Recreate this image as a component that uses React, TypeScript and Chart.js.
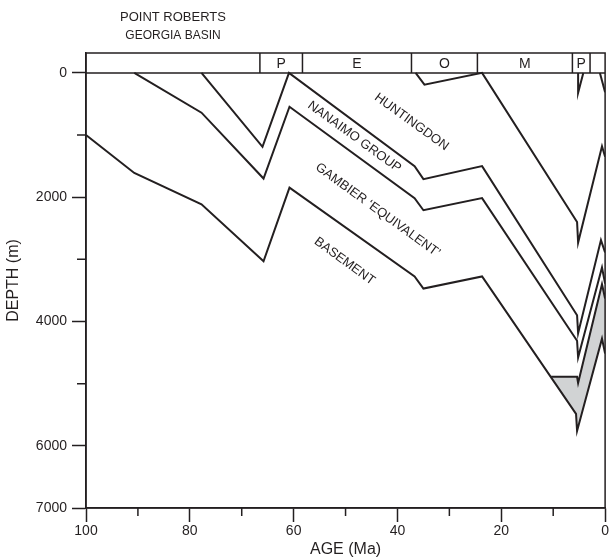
import React, { useEffect, useRef } from 'react';
import { Chart, registerables } from 'chart.js';

Chart.register(...registerables);

const FONT = "'Liberation Sans', Arial, Helvetica, sans-serif";
const INK = '#231f20';
const GRAY = '#d1d3d4';

// axis ticks
const xTicks = [100, 90, 80, 70, 60, 50, 40, 30, 20, 10, 0];
const xLabelled = [100, 80, 60, 40, 20, 0];
const yTicks = [0, 1000, 2000, 3000, 4000, 5000, 6000, 7000];
const yLabelled = [0, 2000, 4000, 6000, 7000];

// epoch band (Ma)
const epochBounds = [100, 66.5, 58.3, 37.3, 24.6, 6.3, 2.9, 0];
const epochLabels = ['', 'P', 'E', 'O', 'M', 'P', ''];

// horizons: age (Ma) and depth (m)
const huntingdonTopAge = [36.5, 34.8, 23.7, 5.4, 5.2, 0.6, 0];
const huntingdonTopDepth = [0, 190, 0, 2400, 2730, 1180, 1350];

const nanaimoTopAge = [77.75, 66.0, 60.9, 36.7, 35.0, 23.7, 5.4, 5.2, 0.8, 0];
const nanaimoTopDepth = [0, 1190, 0, 1500, 1710, 1500, 3900, 4190, 2690, 2890];

const gambierTopAge = [90.7, 77.75, 65.8, 60.8, 36.7, 35.0, 23.7, 5.4, 5.2, 0.6, 0];
const gambierTopDepth = [0, 640, 1700, 545, 2015, 2210, 2015, 4310, 4580, 3130, 3390];

const basementAge = [100, 90.7, 77.75, 65.8, 60.8, 36.7, 35.0, 23.7, 5.6, 5.4, 0.6, 0];
const basementDepth = [1000, 1610, 2115, 3030, 1845, 3275, 3470, 3275, 5485, 5760, 4275, 4515];

const wedgeTopAge = [10.4, 5.4, 5.2, 0.6, 0];
const wedgeTopDepth = [4890, 4890, 4990, 3400, 3630];

const plioV1Age = [5.2, 5.2, 4.2];
const plioV1Depth = [0, 320, 0];
const plioV2Age = [1.0, 0];
const plioV2Depth = [0, 310];

// unit labels
const unitLabels = ['HUNTINGDON', 'NANAIMO GROUP', 'GAMBIER \u2018EQUIVALENT\u2019', 'BASEMENT'];
const unitLabelAge = [37.3, 48.3, 43.8, 50.2];
const unitLabelDepth = [790, 1030, 2210, 3030];

const pts = (a: number[], d: number[]) => a.map((x, i) => ({ x, y: d[i] }));

const decor = {
  id: 'decor',
  beforeDatasetsDraw(chart: any) {
    const { ctx, scales } = chart;
    const xs = scales.x, ys = scales.y;
    const poly = [
      ...pts(wedgeTopAge, wedgeTopDepth),
      ...pts(basementAge, basementDepth).slice(8).reverse(),
    ];
    ctx.save();
    ctx.beginPath();
    poly.forEach((p, i) => {
      const px = xs.getPixelForValue(p.x), py = ys.getPixelForValue(p.y);
      if (i === 0) ctx.moveTo(px, py); else ctx.lineTo(px, py);
    });
    ctx.closePath();
    ctx.fillStyle = GRAY;
    ctx.fill();
    ctx.restore();
  },
  afterDatasetsDraw(chart: any) {
    const { ctx, scales, chartArea } = chart;
    const xs = scales.x, ys = scales.y;
    const { left, right, top, bottom } = chartArea;
    ctx.save();
    ctx.strokeStyle = INK;
    ctx.fillStyle = INK;
    ctx.lineWidth = 1.5;
    // frame
    ctx.strokeRect(left, top, right - left, bottom - top);
    // epoch band
    const y0 = ys.getPixelForValue(0);
    ctx.beginPath();
    ctx.moveTo(left, y0);
    ctx.lineTo(right, y0);
    for (let i = 1; i < epochBounds.length - 1; i++) {
      const px = xs.getPixelForValue(epochBounds[i]);
      ctx.moveTo(px, top);
      ctx.lineTo(px, y0);
    }
    ctx.stroke();
    ctx.font = `14px ${FONT}`;
    ctx.textAlign = 'center';
    ctx.textBaseline = 'middle';
    for (let i = 0; i < epochLabels.length; i++) {
      if (!epochLabels[i]) continue;
      const cx = (xs.getPixelForValue(epochBounds[i]) + xs.getPixelForValue(epochBounds[i + 1])) / 2;
      ctx.fillText(epochLabels[i], cx, (top + y0) / 2 + 1);
    }
    // minor ticks
    ctx.beginPath();
    yTicks.forEach((v) => {
      if (yLabelled.includes(v)) return;
      const py = ys.getPixelForValue(v);
      ctx.moveTo(left - 9, py);
      ctx.lineTo(left, py);
    });
    xTicks.forEach((v) => {
      if (xLabelled.includes(v)) return;
      const px = xs.getPixelForValue(v);
      ctx.moveTo(px, bottom);
      ctx.lineTo(px, bottom + 8);
    });
    ctx.stroke();
    // unit labels
    ctx.font = `13px ${FONT}`;
    unitLabels.forEach((t, i) => {
      ctx.save();
      ctx.translate(xs.getPixelForValue(unitLabelAge[i]), ys.getPixelForValue(unitLabelDepth[i]));
      ctx.rotate((36 * Math.PI) / 180);
      ctx.fillText(t, 0, 0);
      ctx.restore();
    });
    // titles
    ctx.font = `13px ${FONT}`;
    ctx.fillText('POINT ROBERTS', 173, 17);
    ctx.font = `12px ${FONT}`;
    ctx.fillText('GEORGIA BASIN', 173, 36);
    ctx.restore();
  },
};

export default function App() {
  const ref = useRef<HTMLCanvasElement>(null);
  useEffect(() => {
    if (!ref.current) return;
    const line = (a: number[], d: number[], label: string) => ({
      label,
      data: pts(a, d),
      borderColor: INK,
      borderWidth: 2,
      pointRadius: 0,
      fill: false,
      tension: 0,
      borderJoinStyle: 'miter' as const,
    });
    const chart = new Chart(ref.current, {
      type: 'line',
      data: {
        datasets: [
          line(huntingdonTopAge, huntingdonTopDepth, 'Huntingdon top'),
          line(nanaimoTopAge, nanaimoTopDepth, 'Nanaimo top'),
          line(gambierTopAge, gambierTopDepth, 'Gambier top'),
          line(wedgeTopAge, wedgeTopDepth, 'Wedge top'),
          line(basementAge, basementDepth, 'Basement'),
          line(plioV1Age, plioV1Depth, 'Pliocene 1'),
          line(plioV2Age, plioV2Depth, 'Pliocene 2'),
        ],
      },
      options: {
        animation: false,
        responsive: true,
        maintainAspectRatio: false,
        layout: { padding: { top: 53, right: 3, left: 0, bottom: 0 } },
        plugins: { legend: { display: false }, tooltip: { enabled: false } },
        scales: {
          x: {
            type: 'linear',
            min: 0,
            max: 100,
            reverse: true,
            afterBuildTicks: (s: any) => {
              s.ticks = xTicks.map((v) => ({ value: v }));
            },
            afterFit: (s: any) => {
              s.height = 52;
            },
            ticks: {
              autoSkip: false,
              maxRotation: 0,
              padding: 1,
              color: INK,
              font: { family: FONT, size: 14 },
              callback: (v: any) => (xLabelled.includes(Number(v)) ? String(v) : ''),
            },
            grid: {
              display: true,
              drawOnChartArea: false,
              drawTicks: true,
              tickLength: 14,
              tickWidth: 1.5,
              tickColor: (c: any) => (c.tick && xLabelled.includes(c.tick.value) ? INK : 'rgba(0,0,0,0)'),
            },
            border: { display: true, color: INK, width: 1.5 },
            title: {
              display: true,
              text: 'AGE (Ma)',
              color: INK,
              font: { family: FONT, size: 16 },
              padding: { top: 0, bottom: 1 },
            },
          },
          y: {
            type: 'linear',
            min: -320,
            max: 7000,
            reverse: true,
            afterBuildTicks: (s: any) => {
              s.ticks = yTicks.map((v) => ({ value: v }));
            },
            afterFit: (s: any) => {
              s.width = 86;
            },
            ticks: {
              autoSkip: false,
              padding: 5,
              color: INK,
              font: { family: FONT, size: 14 },
              callback: (v: any) => (yLabelled.includes(Number(v)) ? String(v) : ''),
            },
            grid: {
              display: true,
              drawOnChartArea: false,
              drawTicks: true,
              tickLength: 14,
              tickWidth: 1.5,
              tickColor: (c: any) => (c.tick && yLabelled.includes(c.tick.value) ? INK : 'rgba(0,0,0,0)'),
            },
            border: { display: true, color: INK, width: 1.5 },
            title: {
              display: true,
              text: 'DEPTH (m)',
              color: INK,
              font: { family: FONT, size: 16 },
              padding: { top: 4, bottom: 0 },
            },
          },
        },
      },
      plugins: [decor],
    });
    return () => chart.destroy();
  }, []);
  return (
    <div style={{ position: 'absolute', left: 0, top: 0, width: 610, height: 560 }}>
      <canvas ref={ref} />
    </div>
  );
}
